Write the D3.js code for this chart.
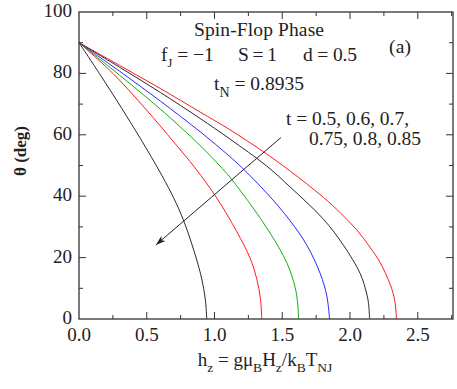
<!DOCTYPE html>
<html>
<head>
<meta charset="utf-8">
<script src="https://cdn.jsdelivr.net/npm/d3@7"></script>
<style>
  body { margin: 0; background: #fff; }
  svg text { font-family: "Liberation Serif", "Times New Roman", serif; fill: #222; }
</style>
</head>
<body>
<div id="wrapper"></div>
<script>
// t values, outer curve first
const tValues = [0.5, 0.6, 0.7, 0.75, 0.8, 0.85]
const curveColors = ['#ff1a1a', '#2a2a2a', '#2828ff', '#10b010', '#ff1a1a', '#2a2a2a']

// [h, theta]
const curveT050 = [[0, 90], [0.3, 82.6], [0.6, 75.1], [0.894, 67.4], [1.108, 61.8], [1.36, 54.5], [1.558, 48.2], [1.804, 39.6], [1.928, 34.6], [2.05, 29], [2.149, 23.3], [2.223, 18.3], [2.297, 11.2], [2.33, 6], [2.343, 0]]
const curveT060 = [[0, 90], [0.3, 82], [0.6, 73.8], [0.894, 65.3], [1.108, 58.8], [1.386, 49.8], [1.558, 43], [1.804, 32.5], [1.952, 24], [2.075, 14.8], [2.12, 8.8], [2.137, 5], [2.144, 0]]
const curveT070 = [[0, 90], [0.3, 80.7], [0.6, 71], [0.894, 61], [1.108, 53.1], [1.2, 49.4], [1.386, 41], [1.558, 32], [1.682, 24], [1.78, 14.8], [1.829, 7.5], [1.849, 0]]
const curveT075 = [[0, 90], [0.3, 79.4], [0.6, 68.4], [0.894, 56.5], [1.041, 49.8], [1.108, 46.5], [1.263, 37.5], [1.41, 28], [1.534, 18.3], [1.595, 10.3], [1.614, 5], [1.62, 0]]
const curveT080 = [[0, 90], [0.25, 80], [0.492, 68.4], [0.7, 57.6], [0.857, 49.2], [1.017, 39.4], [1.165, 28.4], [1.263, 19.8], [1.312, 13], [1.338, 7], [1.349, 0]]
const curveT085 = [[0, 90], [0.15, 80], [0.317, 68.5], [0.45, 59], [0.611, 46.8], [0.7, 39.3], [0.77, 32.3], [0.857, 21], [0.906, 13], [0.932, 6.5], [0.943, 0]]
const curves = [curveT050, curveT060, curveT070, curveT075, curveT080, curveT085]

const xTicks = [0, 0.5, 1.0, 1.5, 2.0, 2.5]
const xMinorTicks = [0.25, 0.75, 1.25, 1.75, 2.25, 2.75]
const yTicks = [0, 20, 40, 60, 80, 100]
const yMinorTicks = [10, 30, 50, 70, 90]

// arrow, data coords: from [h, theta] to [h, theta]
const arrowFrom = [1.49, 59.1]
const arrowTo = [0.567, 24.1]

const dimensions = {
    width: 457,
    height: 389,
    margin: { top: 12, right: 4, bottom: 70, left: 79 }
}
dimensions.boundedWidth = dimensions.width - dimensions.margin.left - dimensions.margin.right
dimensions.boundedHeight = dimensions.height - dimensions.margin.top - dimensions.margin.bottom

const svg = d3.select('#wrapper')
    .append('svg')
    .attr('width', dimensions.width)
    .attr('height', dimensions.height)

const defs = svg.append('defs')
defs.append('marker')
    .attr('id', 'arrowhead')
    .attr('viewBox', '0 0 10 10')
    .attr('refX', 10)
    .attr('refY', 5)
    .attr('markerWidth', 10)
    .attr('markerHeight', 10)
    .attr('markerUnits', 'userSpaceOnUse')
    .attr('orient', 'auto')
    .append('path')
    .attr('d', 'M0,1.8 L10,5 L0,8.2 L2.5,5 Z')
    .attr('fill', '#222')

const bounds = svg.append('g')
    .attr('transform', `translate(${dimensions.margin.left}, ${dimensions.margin.top})`)

const xScale = d3.scaleLinear()
    .domain([0, 2.76])
    .range([0, dimensions.boundedWidth])

const yScale = d3.scaleLinear()
    .domain([0, 100])
    .range([dimensions.boundedHeight, 0])

const lineGenerator = d3.line()
    .x(d => xScale(d[0]))
    .y(d => yScale(d[1]))
    .curve(d3.curveCatmullRom.alpha(0.5))

bounds.selectAll('.curve')
    .data(curves)
    .join('path')
    .attr('class', 'curve')
    .attr('d', lineGenerator)
    .attr('fill', 'none')
    .attr('stroke', (d, i) => curveColors[i])
    .attr('stroke-width', 1)

// frame and ticks
bounds.append('rect')
    .attr('width', dimensions.boundedWidth)
    .attr('height', dimensions.boundedHeight)
    .attr('fill', 'none')
    .attr('stroke', '#333')
    .attr('stroke-width', 1.3)

const tickColor = '#333'
const majorLen = 7
const minorLen = 4

const drawXTicks = (values, len) => {
    values.forEach(v => {
        bounds.append('line')
            .attr('x1', xScale(v)).attr('x2', xScale(v))
            .attr('y1', dimensions.boundedHeight).attr('y2', dimensions.boundedHeight - len)
            .attr('stroke', tickColor)
        bounds.append('line')
            .attr('x1', xScale(v)).attr('x2', xScale(v))
            .attr('y1', 0).attr('y2', len)
            .attr('stroke', tickColor)
    })
}
const drawYTicks = (values, len) => {
    values.forEach(v => {
        bounds.append('line')
            .attr('x1', 0).attr('x2', len)
            .attr('y1', yScale(v)).attr('y2', yScale(v))
            .attr('stroke', tickColor)
        bounds.append('line')
            .attr('x1', dimensions.boundedWidth).attr('x2', dimensions.boundedWidth - len)
            .attr('y1', yScale(v)).attr('y2', yScale(v))
            .attr('stroke', tickColor)
    })
}
drawXTicks(xTicks.slice(1), majorLen)
drawXTicks(xMinorTicks.filter(v => v < 2.76), minorLen)
drawYTicks(yTicks.slice(1, -1), majorLen)
drawYTicks(yMinorTicks, minorLen)

bounds.selectAll('.x-label')
    .data(xTicks)
    .join('text')
    .attr('class', 'x-label')
    .attr('x', d => xScale(d))
    .attr('y', dimensions.boundedHeight + 22)
    .attr('text-anchor', 'middle')
    .style('font-size', '19px')
    .text(d => d3.format('.1f')(d))

bounds.selectAll('.y-label')
    .data(yTicks)
    .join('text')
    .attr('class', 'y-label')
    .attr('x', -7)
    .attr('y', d => yScale(d) + 5)
    .attr('text-anchor', 'end')
    .style('font-size', '19px')
    .text(d => d)

// axis titles
const xTitle = svg.append('text')
    .attr('x', 265)
    .attr('y', 366)
    .attr('text-anchor', 'middle')
    .style('font-size', '19px')
xTitle.append('tspan').text('h')
xTitle.append('tspan').attr('dy', 6).style('font-size', '13.5px').text('z')
xTitle.append('tspan').attr('dy', -6).text(' = gμ')
xTitle.append('tspan').attr('dy', 6).style('font-size', '13.5px').text('B')
xTitle.append('tspan').attr('dy', -6).text('H')
xTitle.append('tspan').attr('dy', 6).style('font-size', '13.5px').text('z')
xTitle.append('tspan').attr('dy', -6).text('/k')
xTitle.append('tspan').attr('dy', 6).style('font-size', '13.5px').text('B')
xTitle.append('tspan').attr('dy', -6).text('T')
xTitle.append('tspan').attr('dy', 6).style('font-size', '13.5px').text('NJ')

svg.append('text')
    .attr('transform', 'translate(26, 151) rotate(-90)')
    .attr('text-anchor', 'middle')
    .style('font-size', '17px')
    .style('font-weight', 'bold')
    .text('θ (deg)')

// annotations
const annotSize = '19.5px'
svg.append('text')
    .attr('x', 194)
    .attr('y', 36)
    .attr('textLength', 130)
    .style('font-size', annotSize)
    .text('Spin-Flop Phase')

const params = svg.append('text')
    .attr('x', 161)
    .attr('y', 61)
    .style('font-size', annotSize)
params.append('tspan').text('f')
params.append('tspan').attr('dy', 6).style('font-size', '12.5px').text('J')
params.append('tspan').attr('dy', -6).text(' = −1')
svg.append('text').attr('x', 238).attr('y', 61).attr('textLength', 39).style('font-size', annotSize).text('S = 1')
svg.append('text').attr('x', 303).attr('y', 61).attr('textLength', 54).style('font-size', annotSize).text('d = 0.5')

svg.append('text')
    .attr('x', 389)
    .attr('y', 53)
    .attr('textLength', 22)
    .style('font-size', annotSize)
    .text('(a)')

const tN = svg.append('text')
    .attr('x', 214)
    .attr('y', 90)
    .style('font-size', annotSize)
tN.append('tspan').text('t')
tN.append('tspan').attr('dy', 7).style('font-size', '14px').text('N')
tN.append('tspan').attr('dy', -7).text(' = 0.8935')

svg.append('text')
    .attr('x', 286)
    .attr('y', 125)
    .style('font-size', annotSize)
    .attr('textLength', 123)
    .text(`t = ${tValues.slice(0, 3).join(', ')},`)
svg.append('text')
    .attr('x', 309)
    .attr('y', 145)
    .style('font-size', annotSize)
    .attr('textLength', 112)
    .text(tValues.slice(3).join(', '))

bounds.append('line')
    .attr('x1', xScale(arrowFrom[0]))
    .attr('y1', yScale(arrowFrom[1]))
    .attr('x2', xScale(arrowTo[0]))
    .attr('y2', yScale(arrowTo[1]))
    .attr('stroke', '#222')
    .attr('stroke-width', 1)
    .attr('marker-end', 'url(#arrowhead)')
</script>
</body>
</html>
